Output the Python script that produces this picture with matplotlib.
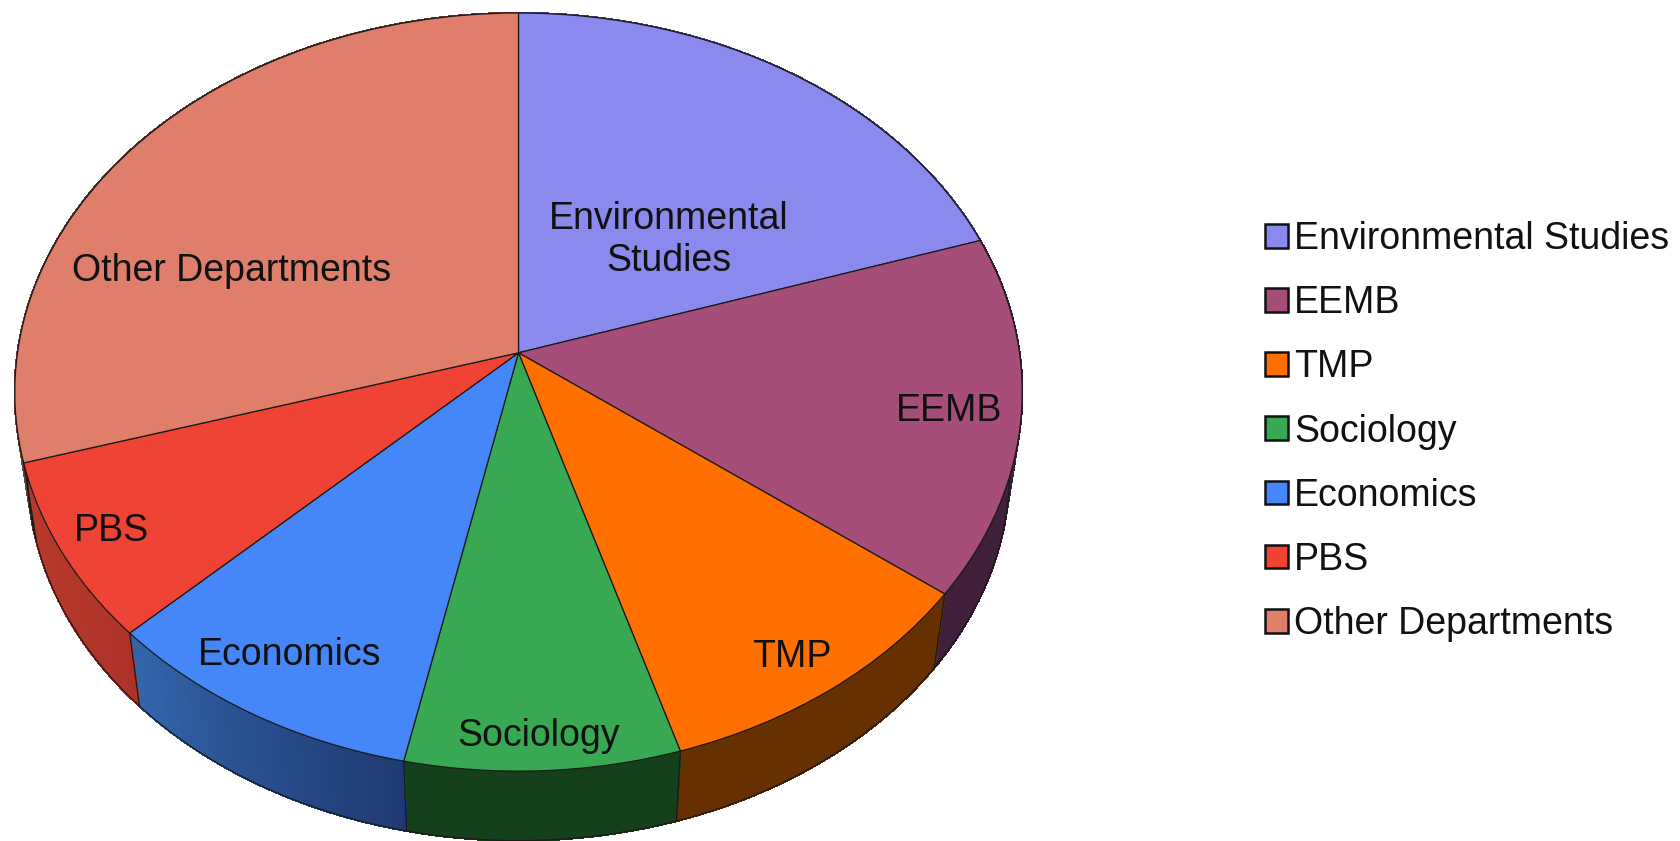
import numpy as np
import matplotlib
matplotlib.use('Agg')
import matplotlib.pyplot as plt
from matplotlib.patches import Patch
from matplotlib.transforms import Transform
from matplotlib.colors import to_rgb

plt.rcParams['font.family'] = ['Liberation Sans', 'DejaVu Sans']

# data, percent of the whole
departments = ['Environmental Studies', 'EEMB', 'TMP', 'Sociology',
               'Economics', 'PBS', 'Other Departments']
shares = [20.0, 15.3, 10.0, 8.0, 9.5, 7.6, 29.6]

top_colors = ['#8a8aee', '#a64d79', '#ff7000', '#38a852', '#4586f8', '#ef4435', '#de7e6b']
# wall colour at start and end of each slice (left-to-right gradient on two)
wall_start = ['#45457a', '#40203a', '#663000', '#14401c', '#1f3a72', '#ae3228', '#6f3f35']
wall_end = ['#45457a', '#40203a', '#663000', '#14401c', '#3365ac', '#b83a2c', '#6f3f35']

# slice names are placed by hand, as in the original
slice_labels = ['Environmental\nStudies', 'EEMB', 'TMP', 'Sociology',
                'Economics', 'PBS', 'Other Departments']
label_xy = [(669, 240), (949, 411), (792, 657), (539, 736),
            (290, 655), (112, 531), (232, 271)]

W, H = 1681, 841
CX, CY = 518.5, 352.8   # apex of the pie
RX, RY = 501.0, 375.0
TILT = 0.1036           # perspective strength
VP_Y = 3549.0           # the walls converge on this point
BASE = 0.975            # base rim size against top rim


class Tilted(Transform):
    # unit circle -> picture pixels, with perspective
    input_dims = 2
    output_dims = 2
    is_separable = False
    has_inverse = False

    def transform_non_affine(self, values):
        values = np.asarray(values, dtype=float)
        w = 1 + TILT * values[:, 1]
        return np.column_stack((CX + RX * values[:, 0] / w,
                                CY - RY * values[:, 1] / w))


fig = plt.figure(figsize=(16.81, 8.41), dpi=100, facecolor='white')
ax = fig.add_axes([0, 0, 1, 1])

wedges, _ = ax.pie(shares, colors=top_colors, startangle=90, counterclock=False,
                   wedgeprops={'edgecolor': '#1a1a1a', 'linewidth': 0.9})

ax.set_aspect('auto')
ax.set_xlim(0, W)
ax.set_ylim(H, 0)
ax.axis('off')

tilted = Tilted()
for w in wedges:
    w.set_transform(tilted + ax.transData)
    w.set_zorder(3)


def rim(angles):
    pts = tilted.transform(np.column_stack((np.sin(angles), np.cos(angles))))
    base = np.column_stack((CX + BASE * (pts[:, 0] - CX),
                            VP_Y + BASE * (pts[:, 1] - VP_Y)))
    return pts, base


# outer walls, cut in thin strips so the gradient can be drawn
edges = np.cumsum([0] + shares) / sum(shares) * 2 * np.pi
for i in range(len(shares)):
    n = 60
    a = np.linspace(edges[i], edges[i + 1], n + 1)
    top, base = rim(a)
    c0, c1 = np.array(to_rgb(wall_start[i])), np.array(to_rgb(wall_end[i]))
    for j in range(n):
        t = j / (n - 1)
        col = c0 + (c1 - c0) * t
        ax.fill([top[j, 0], top[j + 1, 0], base[j + 1, 0], base[j, 0]],
                [top[j, 1], top[j + 1, 1], base[j + 1, 1], base[j, 1]],
                facecolor=col, edgecolor=col, linewidth=1.0, antialiased=False, zorder=1)
    ax.plot(base[:, 0], base[:, 1], color='#1a1a1a', lw=0.9, zorder=2)
    ax.plot([top[0, 0], base[0, 0]], [top[0, 1], base[0, 1]], color='#1a1a1a', lw=0.9, zorder=2)

for text, (x, y) in zip(slice_labels, label_xy):
    ax.text(x, y, text, ha='center', va='center', fontsize=27, color='#111111',
            linespacing=1.21, zorder=4)

handles = [Patch(facecolor=c, edgecolor='#111111', linewidth=1.8) for c in top_colors]
ax.legend(handles, departments, loc='center left', bbox_to_anchor=(1265 / W, 1 - 431.5 / H),
          frameon=False, fontsize=27, handlelength=0.62, handleheight=0.6,
          handletextpad=0.15, labelspacing=0.75, borderpad=0, borderaxespad=0,
          labelcolor='#111111')

fig.savefig('out.png', dpi=100, facecolor='white')
